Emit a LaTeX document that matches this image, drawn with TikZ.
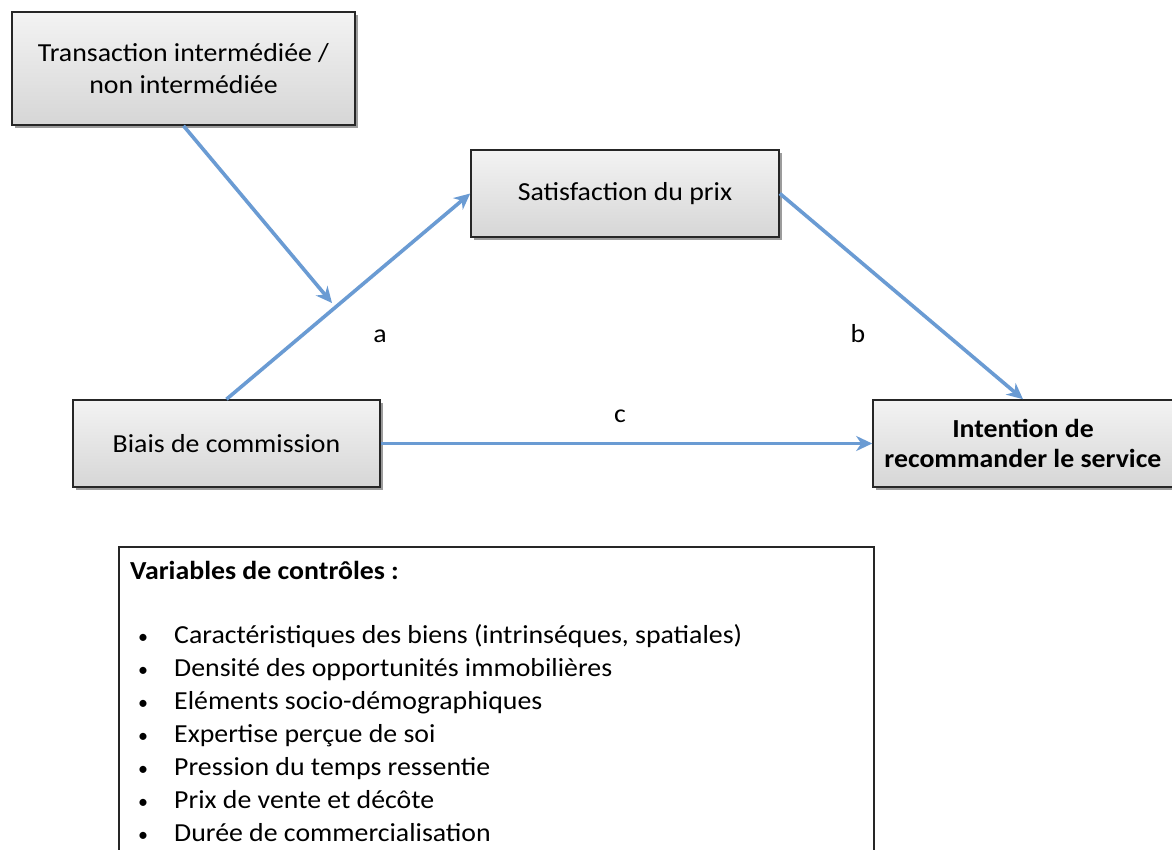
\documentclass[tikz,border=0pt]{standalone}
\usepackage{fontspec}
\setmainfont{Carlito}
\usetikzlibrary{arrows.meta,shadows}
\definecolor{arrowblue}{HTML}{6A9BD3}
\definecolor{boxtop}{HTML}{F3F3F3}
\definecolor{boxbot}{HTML}{D6D6D6}
\newcommand{\sx}[1]{\scalebox{1.07}[1]{#1}}
\tikzset{
  box/.style={draw=black!85, line width=1.6pt, top color=boxtop, bottom color=boxbot,
    drop shadow={shadow xshift=2.5pt, shadow yshift=-2.5pt, opacity=0.55, fill=black!70},
    align=center, font=\fontsize{26}{31}\selectfont, inner sep=0pt},
  link/.style={draw=arrowblue, line width=3.6pt, -{Stealth[length=16pt,width=15pt,inset=5pt]}},
  lab/.style={font=\fontsize{26}{31}\selectfont, inner sep=0pt},
}
\begin{document}
\begin{tikzpicture}[x=1pt,y=1pt]
\useasboundingbox (0,0) rectangle (1172,-849);
\fill[white] (0,0) rectangle (1172,-849);
\begin{scope}
\clip (0,0) rectangle (1172,-849);
\node[box, minimum width=343, minimum height=113] (T) at (183.5,-68.5) {\sx{Transaction intermédiée /}\\[1pt]\sx{non intermédiée}};
\node[box, minimum width=308, minimum height=87] (S) at (625,-193.5) {\sx{Satisfaction du prix}};
\node[box, minimum width=307, minimum height=87] (B) at (226.5,-443.5) {\sx{Biais de commission}};
\node[box, minimum width=300, minimum height=87, font=\fontsize{26}{30}\selectfont\bfseries] (I) at (1023,-443.5) {\sx{Intention de}\\\sx{recommander le service}};
\node[draw=black!85, line width=1.6pt, fill=white, minimum width=755, minimum height=340, anchor=north west, inner sep=0pt] (C) at (118,-546) {};
\end{scope}
\node[lab, font=\fontsize{26}{31}\selectfont\bfseries, anchor=base west] (CT) at (130,-579) {\sx{Variables de contrôles :}};
\foreach \t [count=\i] in {{Caractéristiques des biens (intrinséques, spatiales)},{Densité des opportunités immobilières},{Eléments socio-démographiques},{Expertise perçue de soi},{Pression du temps ressentie},{Prix de vente et décôte},{Durée de commercialisation}}{
  \node[lab, font=\fontsize{20}{24}\selectfont, anchor=base west] (b\i) at (138,{-643-33*(\i-1)}) {•};
  \node[lab, anchor=base west] (l\i) at (174,{-643-33*(\i-1)}) {\sx{\t}};
}
\coordinate (M) at (332,-303);
\draw[link] (T.south) -- (M);
\draw[link] (B.north) -- (S.west);
\draw[link] (S.east) -- (I.north);
\draw[link] (B.east) -- (I.west);
\node[lab] (a) at (380,-336) {\sx{a}};
\node[lab] (b) at (858,-334) {\sx{b}};
\node[lab] (c) at (620,-416) {\sx{c}};
\end{tikzpicture}
\end{document}
